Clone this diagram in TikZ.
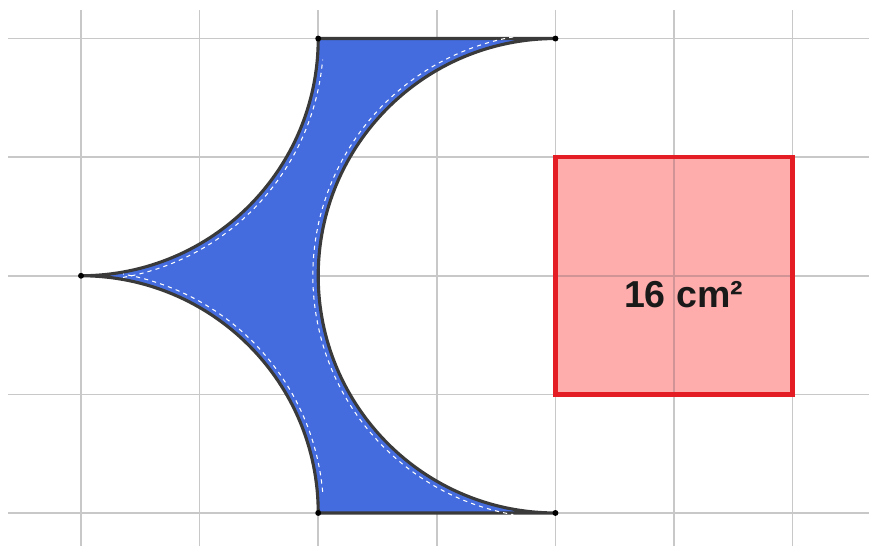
\documentclass[tikz,border=0pt]{standalone}
\usepackage{fontspec}
\setmainfont{Liberation Sans}
\usepackage{tikz}

\definecolor{gridgray}{RGB}{200,200,200}
\definecolor{shapeblue}{RGB}{68,108,222}
\definecolor{edgegray}{RGB}{58,58,58}
\definecolor{squarered}{RGB}{228,28,36}
\definecolor{squarepink}{RGB}{255,172,172}

\begin{document}
\begin{tikzpicture}[line width=0.4pt]
\useasboundingbox (-0.683,-0.278) rectangle (6.644,4.325);
% grid
\foreach \x in {0,...,6} {\draw[gridgray] (\x,-0.3)--(\x,4.241);}
\foreach \y in {0,...,4} {\draw[gridgray] (-0.615,\y)--(6.7,\y);}
% square
\draw[squarered,fill=squarepink,line width=1.1pt] (4,1) rectangle (6,3);
\draw[gridgray!70!squarered] (5,1)--(5,3);
\draw[gridgray!70!squarered] (4,2)--(6,2);
\draw[squarered,line width=1.1pt] (4,1) rectangle (6,3);
\node[font=\fontsize{9}{10}\selectfont\bfseries,text=black!90] (area) at (5.08,1.84) {16 cm²};
% blue shape
\coordinate (A) at (2,4); \coordinate (B) at (4,4);
\coordinate (C) at (4,0); \coordinate (D) at (2,0);
\coordinate (E) at (0,2);
\draw[edgegray,fill=shapeblue,line width=0.75pt,line join=round]
  (A)--(B)
  arc[start angle=90,end angle=270,radius=2]
  --(D)
  arc[start angle=0,end angle=90,radius=2]
  arc[start angle=270,end angle=360,radius=2]
  --cycle;
\draw[white,line width=0.25pt,dash pattern=on 1pt off 1pt]
  (4,2) ++(100:2.045) arc[start angle=100,end angle=260,radius=2.045];
\draw[white,line width=0.25pt,dash pattern=on 1pt off 1pt]
  (0,0) ++(5:2.045) arc[start angle=5,end angle=80,radius=2.045];
\draw[white,line width=0.25pt,dash pattern=on 1pt off 1pt]
  (0,4) ++(280:2.045) arc[start angle=280,end angle=355,radius=2.045];
\foreach \p in {A,B,C,D,E} {\fill[black] (\p) circle(0.025);}
\end{tikzpicture}
\end{document}
